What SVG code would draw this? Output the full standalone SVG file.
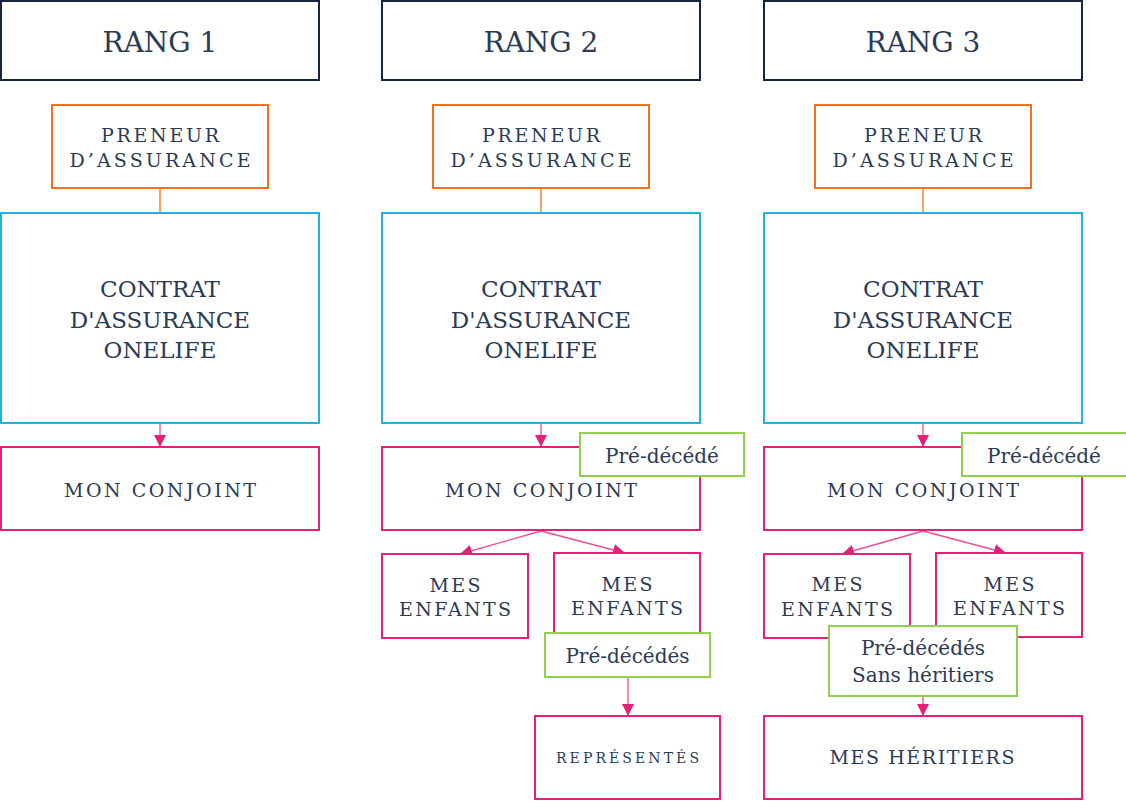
<svg xmlns="http://www.w3.org/2000/svg" width="1126" height="801" viewBox="0 0 1126 801">
<style>
text{font-family:"DejaVu Serif","Liberation Serif",serif;fill:#2b3a55;text-anchor:middle}
.hdr rect{fill:#fff;stroke:#17263f;stroke-width:2}
.hdr text{font-size:28px}
.pre rect{fill:#fff;stroke:#f36f21;stroke-width:2}
.pre text{font-size:19px}
.ctr rect{fill:#fff;stroke:#1fb4dc;stroke-width:2}
.ctr text{font-size:23px}
.pk rect{fill:#fff;stroke:#e61f78;stroke-width:2}
.pk text{font-size:19px}
.pk text.sm{font-size:14px}
.gr rect{fill:#fff;stroke:#92d050;stroke-width:2}
.gr text{font-size:20px}
.cn line{stroke:#ee4d95;stroke-width:1.3;fill:none}
.cn line.or{stroke:#f36f21}
</style>
<defs>
<marker id="ah" viewBox="0 0 10 10" refX="10" refY="5" markerWidth="12" markerHeight="12" markerUnits="userSpaceOnUse" orient="auto">
<path d="M0,0 L10,5 L0,10 z" fill="#e61f78"/>
</marker>
</defs>

<g id="rang1" class="hdr"><rect x="1" y="1" width="318" height="79"/><text x="160" y="52">RANG 1</text></g>
<g id="rang2" class="hdr"><rect x="382" y="1" width="318" height="79"/><text x="541" y="52">RANG 2</text></g>
<g id="rang3" class="hdr"><rect x="764" y="1" width="318" height="79"/><text x="923" y="52">RANG 3</text></g>

<g class="cn" id="connectors">
<line class="or" x1="160" y1="189" x2="160" y2="213"/>
<line class="or" x1="541" y1="189" x2="541" y2="213"/>
<line class="or" x1="923" y1="189" x2="923" y2="213"/>
<line x1="160" y1="424" x2="160" y2="447" marker-end="url(#ah)"/>
<line x1="541" y1="424" x2="541" y2="447" marker-end="url(#ah)"/>
<line x1="923" y1="424" x2="923" y2="447" marker-end="url(#ah)"/>
<line x1="541" y1="531" x2="460" y2="554" marker-end="url(#ah)"/>
<line x1="541" y1="531" x2="625" y2="553" marker-end="url(#ah)"/>
<line x1="923" y1="531" x2="842" y2="554" marker-end="url(#ah)"/>
<line x1="923" y1="531" x2="1006" y2="553" marker-end="url(#ah)"/>
<line x1="628" y1="678" x2="628" y2="716" marker-end="url(#ah)"/>
<line x1="923" y1="697" x2="923" y2="716" marker-end="url(#ah)"/>
</g>

<g id="preneur1" class="pre"><rect x="52" y="105" width="216" height="83"/><text x="160" y="142" textLength="118" lengthAdjust="spacing">PRENEUR</text><text x="160" y="167" textLength="181" lengthAdjust="spacing">D’ASSURANCE</text></g>
<g id="preneur2" class="pre"><rect x="433" y="105" width="216" height="83"/><text x="541" y="142" textLength="118" lengthAdjust="spacing">PRENEUR</text><text x="541" y="167" textLength="181" lengthAdjust="spacing">D’ASSURANCE</text></g>
<g id="preneur3" class="pre"><rect x="815" y="105" width="216" height="83"/><text x="923" y="142" textLength="118" lengthAdjust="spacing">PRENEUR</text><text x="923" y="167" textLength="181" lengthAdjust="spacing">D’ASSURANCE</text></g>

<g id="contrat1" class="ctr"><rect x="1" y="213" width="318" height="210"/><text x="160" y="297">CONTRAT</text><text x="160" y="328">D'ASSURANCE</text><text x="160" y="358">ONELIFE</text></g>
<g id="contrat2" class="ctr"><rect x="382" y="213" width="318" height="210"/><text x="541" y="297">CONTRAT</text><text x="541" y="328">D'ASSURANCE</text><text x="541" y="358">ONELIFE</text></g>
<g id="contrat3" class="ctr"><rect x="764" y="213" width="318" height="210"/><text x="923" y="297">CONTRAT</text><text x="923" y="328">D'ASSURANCE</text><text x="923" y="358">ONELIFE</text></g>

<g id="conjoint1" class="pk"><rect x="1" y="447" width="318" height="83"/><text x="160" y="497" textLength="192" lengthAdjust="spacing">MON CONJOINT</text></g>
<g id="conjoint2" class="pk"><rect x="382" y="447" width="318" height="83"/><text x="541" y="497" textLength="192" lengthAdjust="spacing">MON CONJOINT</text></g>
<g id="conjoint3" class="pk"><rect x="764" y="447" width="318" height="83"/><text x="923" y="497" textLength="192" lengthAdjust="spacing">MON CONJOINT</text></g>

<g id="enfants2a" class="pk"><rect x="382" y="554" width="146" height="84"/><text x="455" y="592" textLength="51" lengthAdjust="spacing">MES</text><text x="455" y="616" textLength="112" lengthAdjust="spacing">ENFANTS</text></g>
<g id="enfants2b" class="pk"><rect x="554" y="553" width="146" height="84"/><text x="627" y="591" textLength="51" lengthAdjust="spacing">MES</text><text x="627" y="615" textLength="112" lengthAdjust="spacing">ENFANTS</text></g>
<g id="enfants3a" class="pk"><rect x="764" y="554" width="146" height="84"/><text x="837" y="591" textLength="51" lengthAdjust="spacing">MES</text><text x="837" y="616" textLength="112" lengthAdjust="spacing">ENFANTS</text></g>
<g id="enfants3b" class="pk"><rect x="936" y="553" width="146" height="84"/><text x="1009" y="591" textLength="51" lengthAdjust="spacing">MES</text><text x="1009" y="615" textLength="112" lengthAdjust="spacing">ENFANTS</text></g>

<g id="representes" class="pk"><rect x="535" y="716" width="185" height="83"/><text class="sm" x="627.5" y="763" textLength="143" lengthAdjust="spacing">REPRÉSENTÉS</text></g>
<g id="heritiers" class="pk"><rect x="764" y="716" width="318" height="83"/><text x="922" y="764" textLength="185" lengthAdjust="spacing">MES HÉRITIERS</text></g>

<g id="predecede2" class="gr"><rect x="580" y="433" width="164" height="43"/><text x="662" y="463">Pré-décédé</text></g>
<g id="predecede3" class="gr"><rect x="962" y="433" width="165" height="43"/><text x="1044" y="463">Pré-décédé</text></g>
<g id="predecedes2" class="gr"><rect x="545" y="633" width="165" height="44"/><text x="627.5" y="663">Pré-décédés</text></g>
<g id="predecedes3" class="gr"><rect x="829" y="626" width="188" height="70"/><text x="923" y="655">Pré-décédés</text><text x="923" y="682">Sans héritiers</text></g>
</svg>
